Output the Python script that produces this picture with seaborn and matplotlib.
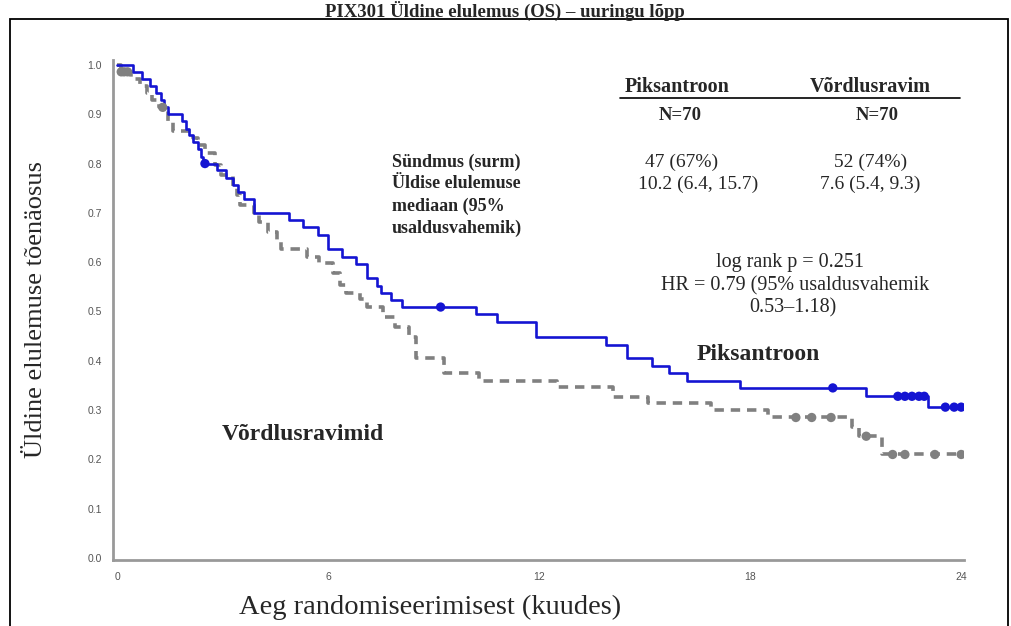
import numpy as np
import pandas as pd
import matplotlib
matplotlib.use("Agg")
import matplotlib.pyplot as plt
import seaborn as sns
from matplotlib.patches import Rectangle
from matplotlib.lines import Line2D

# ----------------------------------------------------------------------------------------------
# Kaplan-Meier step data (time in months, survival after the step)
# ----------------------------------------------------------------------------------------------
pix_time = [0, 0.45, 0.72, 0.95, 1.1, 1.25, 1.35, 1.45, 1.85, 1.95, 2.05, 2.15, 2.3, 2.4,
            2.45, 2.85, 3.1, 3.3, 3.45, 3.6, 3.9, 4.9, 5.3, 5.7, 6.0, 6.4, 6.8, 7.1, 7.4,
            7.5, 7.8, 8.1, 10.2, 10.8, 11.9, 13.9, 14.5, 15.2, 15.7, 16.2, 17.7, 21.3,
            23.05, 24.0]
pix_surv = [1.0, 0.986, 0.971, 0.957, 0.943, 0.929, 0.914, 0.9, 0.886, 0.871, 0.857, 0.843,
            0.829, 0.814, 0.8, 0.786, 0.771, 0.757, 0.743, 0.729, 0.7, 0.686, 0.671, 0.656,
            0.627, 0.611, 0.596, 0.568, 0.552, 0.537, 0.523, 0.509, 0.494, 0.479, 0.448,
            0.433, 0.406, 0.39, 0.375, 0.36, 0.345, 0.328, 0.306, 0.306]
pix_cens = [2.5, 9.2, 20.35, 22.2, 22.4, 22.6, 22.8, 22.95, 23.55, 23.8, 24.0]

cmp_time = [0, 0.1, 0.4, 0.65, 0.85, 1.0, 1.2, 1.45, 1.6, 2.15, 2.3, 2.5, 2.8, 2.95, 3.3,
            3.4, 3.5, 3.9, 4.05, 4.3, 4.55, 4.65, 5.4, 5.75, 6.15, 6.35, 6.5, 6.9, 7.1, 7.55,
            7.9, 8.3, 8.5, 9.3, 10.3, 12.5, 14.1, 15.1, 16.9, 18.5, 20.9, 21.1, 21.75, 24.0]
cmp_surv = [1.0, 0.986, 0.971, 0.957, 0.943, 0.929, 0.914, 0.884, 0.866, 0.852, 0.837, 0.822,
            0.797, 0.777, 0.753, 0.736, 0.716, 0.7, 0.682, 0.661, 0.641, 0.627, 0.611, 0.598,
            0.578, 0.554, 0.537, 0.525, 0.509, 0.489, 0.469, 0.448, 0.406, 0.375, 0.36,
            0.346, 0.327, 0.314, 0.3, 0.285, 0.265, 0.247, 0.21, 0.21]
cmp_cens = [0.12, 0.2, 0.3, 1.3, 19.3, 19.75, 20.3, 21.3, 22.05, 22.4, 23.25, 24.0]

x_ticks = [0, 6, 12, 18, 24]
y_ticks = [0.0, 0.1, 0.2, 0.3, 0.4, 0.5, 0.6, 0.7, 0.8, 0.9, 1.0]

BLUE = "#1414d2"
GREY = "#808080"


def censor_points(times, surv, cens):
    # survival value of the step function at each censoring time
    idx = np.searchsorted(times, cens, side="right") - 1
    return pd.DataFrame({"time": cens, "surv": np.asarray(surv)[idx]})


pix_df = pd.DataFrame({"time": pix_time, "surv": pix_surv})
cmp_df = pd.DataFrame({"time": cmp_time, "surv": cmp_surv})

# ----------------------------------------------------------------------------------------------
sns.set_style("white")
plt.rcParams["font.family"] = ["Liberation Serif", "DejaVu Serif"]

fig = plt.figure(figsize=(10.11, 6.26), dpi=100)
ax = fig.add_axes([113 / 1011, 1 - 560 / 626, (964 - 113) / 1011, 500 / 626])

sns.lineplot(data=cmp_df, x="time", y="surv", ax=ax, color=GREY, lw=2.6,
             drawstyle="steps-post", estimator=None, sort=False,
             dashes=False, linestyle=(0, (2.6, 1.9)))
sns.lineplot(data=pix_df, x="time", y="surv", ax=ax, color=BLUE, lw=1.9,
             drawstyle="steps-post", estimator=None, sort=False)
sns.scatterplot(data=censor_points(cmp_time, cmp_surv, cmp_cens), x="time", y="surv", ax=ax,
                color=GREY, s=45, edgecolor="none", zorder=5)
sns.scatterplot(data=censor_points(pix_time, pix_surv, pix_cens), x="time", y="surv", ax=ax,
                color=BLUE, s=45, edgecolor="none", zorder=6)

ax.set_xlim(-0.114, 24.08)
ax.set_ylim(-0.004, 1.01)
ax.set_xticks(x_ticks)
ax.set_yticks(y_ticks)
ax.set_xticklabels([str(t) for t in x_ticks], family="Liberation Sans", fontsize=7.5, color="#555555")
ax.set_yticklabels([f"{v:.1f}" for v in y_ticks], family="Liberation Sans", fontsize=7.5, color="#555555")
ax.tick_params(axis="both", direction="out", length=5, width=1.3, color="#999999", pad=3)
ax.tick_params(axis="x", pad=4)
for side in ["top", "right"]:
    ax.spines[side].set_visible(False)
for side in ["left", "bottom"]:
    ax.spines[side].set_color("#999999")
    ax.spines[side].set_linewidth(2)
ax.set_xlabel("")
ax.set_ylabel("")

# axis titles
fig.text(430 / 1011, 1 - 607 / 626, "Aeg randomiseerimisest (kuudes)", fontsize=20.5,
         ha="center", va="center")
fig.text(36 / 1011, 1 - 310 / 626, "Üldine elulemuse tõenäosus", fontsize=19,
         ha="center", va="center", rotation=90)

# title, sitting right on the top edge as in the source
fig.text(505 / 1011, 1 - 17 / 626, "PIX301 Üldine elulemus (OS) – uuringu lõpp",
         fontsize=13.5, fontweight="bold", ha="center", va="baseline")

# frame around the chart
fig.add_artist(Rectangle((10 / 1011, -0.1), (1008 - 10) / 1011, 1.1 - 19 / 626,
                         transform=fig.transFigure, fill=False, ec="black", lw=1.3))

# summary table
def t(x, y, s, size=13, **kw):
    fig.text(x / 1011, 1 - y / 626, s, fontsize=size, va="center", **kw)


t(677, 87, "Piksantroon", 14.5, ha="center", fontweight="bold")
t(870, 87, "Võrdlusravim", 14.5, ha="center", fontweight="bold")
fig.add_artist(Line2D([620 / 1011, 960 / 1011], [1 - 98 / 626, 1 - 98 / 626],
                      transform=fig.transFigure, color="black", lw=1.2))
t(680, 115, "N=70", 13.5, ha="center", fontweight="bold")
t(877, 115, "N=70", 13.5, ha="center", fontweight="bold")
t(392, 162, "Sündmus (surm)", ha="left", fontweight="bold")
t(392, 184, "Üldise elulemuse", ha="left", fontweight="bold")
t(392, 206, "mediaan (95%", ha="left", fontweight="bold")
t(392, 228, "usaldusvahemik)", ha="left", fontweight="bold")
t(682, 162, "47 (67%)", 14, ha="center")
t(871, 162, "52 (74%)", 14, ha="center")
t(698, 184, "10.2 (6.4, 15.7)", 14, ha="center")
t(870, 184, "7.6 (5.4, 9.3)", 14, ha="center")
t(790, 263, "log rank p = 0.251", 14.5, ha="center")
t(795, 286, "HR = 0.79 (95% usaldusvahemik", 14.5, ha="center")
t(793, 308, "0.53–1.18)", 14.5, ha="center")

# curve labels
fig.text(697 / 1011, 1 - 355 / 626, "Piksantroon", fontsize=17, fontweight="bold", va="center")
fig.text(222 / 1011, 1 - 435 / 626, "Võrdlusravimid", fontsize=17, fontweight="bold", va="center")

plt.savefig("out.png", dpi=100)
plt.close()
